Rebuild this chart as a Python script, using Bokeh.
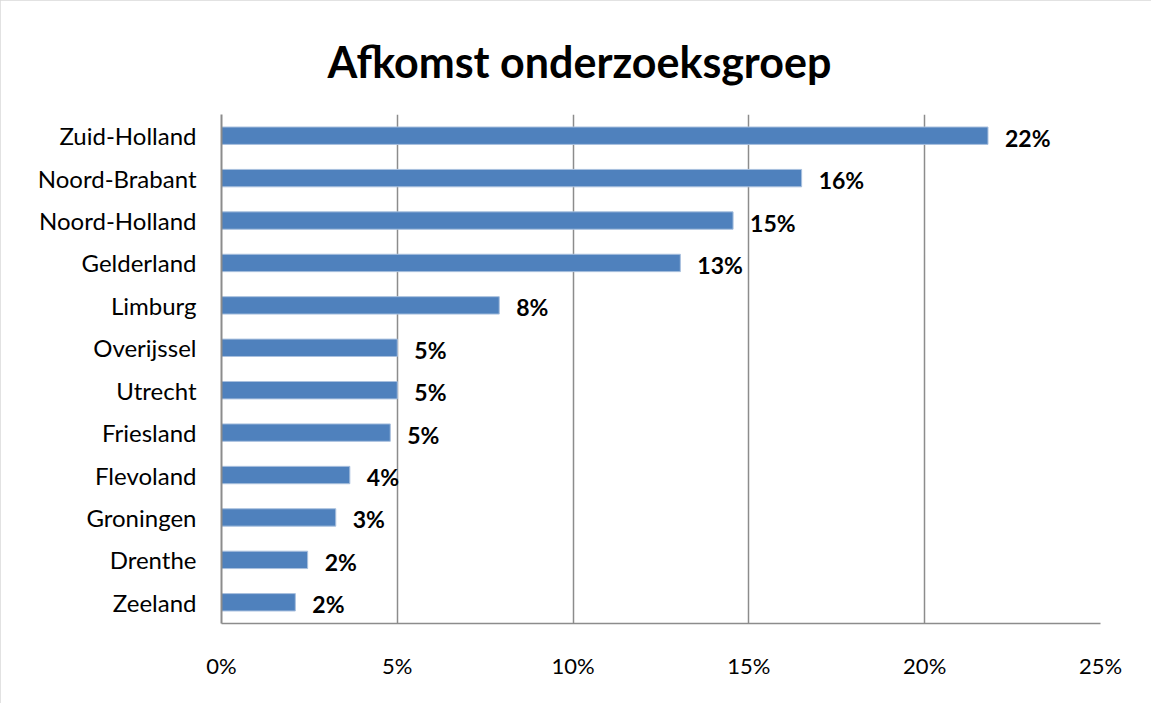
from bokeh.plotting import figure
from bokeh.models import (ColumnDataSource, FactorRange, Range1d, FixedTicker,
                          NumeralTickFormatter, LabelSet)
from bokeh.core.properties import value
from bokeh.embed import file_html
from bokeh.resources import INLINE

provinces = ["Zuid-Holland", "Noord-Brabant", "Noord-Holland", "Gelderland", "Limburg",
             "Overijssel", "Utrecht", "Friesland", "Flevoland", "Groningen", "Drenthe", "Zeeland"]
shares = [0.218, 0.165, 0.1455, 0.1305, 0.079, 0.05, 0.05, 0.048, 0.0365, 0.0325, 0.0245, 0.021]
x_ticks = [0.0, 0.05, 0.10, 0.15, 0.20, 0.25]

labels = [f"{v * 100:.0f}%" for v in shares]
source = ColumnDataSource(dict(province=provinces, share=shares, label=labels))

FONT = "Lato"
W, H = 1151, 703

p = figure(width=W, height=H, output_backend="svg", toolbar_location=None,
           y_range=FactorRange(*reversed(provinces), range_padding=0),
           x_range=Range1d(0, 0.25),
           min_border_left=221, min_border_right=51, min_border_top=114, min_border_bottom=80,
           title="Afkomst onderzoeksgroep")

p.title.text_font = FONT
p.title.text_font_size = "43px"
p.title.text_font_style = "bold"
p.title.text_color = "black"
p.title.align = "left"
p.title.offset = 106
p.title.standoff = 56

p.hbar(y="province", right="share", left=0, height=0.41, source=source,
       fill_color="#4F81BD", line_color="#a9c0de", line_width=1)

p.add_layout(LabelSet(x="share", y="province", text="label", source=source,
                      x_offset=17, y_offset=-2, text_baseline="middle",
                      text_font=value(FONT), text_font_size="23px", text_font_style="bold",
                      text_color="black"))

p.outline_line_color = None
p.ygrid.grid_line_color = None
p.xgrid.grid_line_color = "#8c8c8c"
p.xgrid.grid_line_width = 1.5
p.xaxis.ticker = FixedTicker(ticks=x_ticks)
p.xaxis.formatter = NumeralTickFormatter(format="0%")

for ax in (p.xaxis[0], p.yaxis[0]):
    ax.axis_line_color = "#8c8c8c"
    ax.axis_line_width = 1.5
    ax.major_tick_line_color = None
    ax.minor_tick_line_color = None
    ax.major_label_text_font = FONT
    ax.major_label_text_color = "black"

p.xaxis.major_label_text_font_size = "22px"
p.yaxis.major_label_text_font_size = "24px"
p.xaxis.major_label_standoff = 22
p.yaxis.major_label_standoff = 19
p.yaxis.axis_line_width = 2

p.styles = {"outline": "2px solid #d9d9d9", "outline-offset": "-2px"}

open("out.html", "w").write(file_html(p, INLINE))
